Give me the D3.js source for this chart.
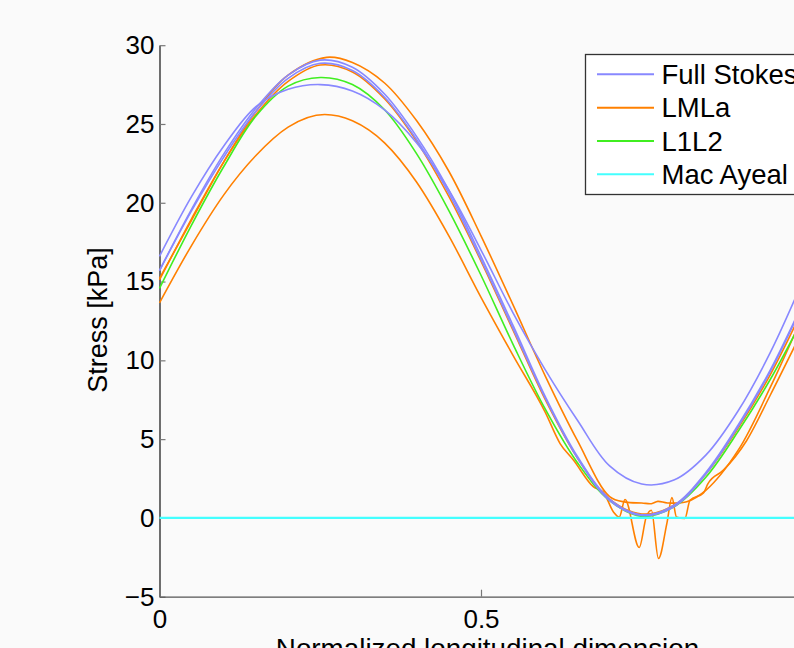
<!DOCTYPE html>
<html lang="en">

<head>
  <meta charset="UTF-8" />
  <title>Stress</title>
  <script src="https://cdn.jsdelivr.net/npm/d3@7"></script>
  <style>
    body {
      margin: 0;
      background: #fafafa;
    }

    text {
      font-family: "Liberation Sans", Arial, sans-serif;
      fill: #000;
    }
  </style>
</head>

<body>
  <svg id="chart" width="794" height="648"></svg>

  <script>
    // x positions shared by the smooth curves
    let xGrid = [0, 0.05, 0.1, 0.15, 0.2, 0.25, 0.3, 0.35, 0.4, 0.45, 0.5,
      0.55, 0.6, 0.65, 0.7, 0.75, 0.8, 0.85, 0.9, 0.95, 1];

    // Full Stokes runs
    let fsFlat = [16.6, 20.4, 23.6, 26.1, 27.2, 27.5, 27.1, 25.9, 23.8, 20.8, 17.0,
      13.0, 9.4, 6.2, 3.3, 2.15, 2.4, 4.0, 6.8, 10.5, 15.0];
    let fsHigh = [15.7, 19.6, 23.1, 26.0, 28.1, 29.05, 28.6, 26.9, 24.2, 20.8, 16.6,
      12.2, 7.7, 3.9, 1.2, 0.2, 0.8, 2.9, 5.9, 9.4, 13.6];
    let fsMid = [15.7, 19.5, 22.9, 25.8, 27.9, 28.85, 28.4, 26.7, 24.0, 20.6, 16.4,
      12.0, 7.6, 3.8, 1.1, 0.15, 0.7, 2.8, 5.8, 9.3, 13.5];

    // L1L2
    let l1l2 = [14.57, 18.6, 22.3, 25.5, 27.4, 27.95, 27.5, 25.9, 23.1, 19.5, 15.4,
      11.0, 6.9, 3.5, 1.1, 0.1, 0.7, 2.6, 5.5, 8.8, 12.6];

    // LMLa runs
    let lmlaMid = [15.1, 19.0, 22.6, 25.6, 27.7, 28.74, 28.3, 26.6, 23.9, 20.4, 16.3,
      11.9, 7.5, 3.8, 1.2, 0.25, 0.8, 2.8, 5.7, 9.1, 13.2];
    let lmlaTopX = [0, 0.05, 0.1, 0.15, 0.2, 0.26, 0.3, 0.35, 0.4, 0.45, 0.5, 0.55, 0.6,
      0.65, 0.7, 0.725, 0.75, 0.765, 0.775, 0.79, 0.82, 0.85, 0.9, 0.95, 1];
    let lmlaTop = [15.2, 18.9, 22.6, 25.8, 28.1, 29.23, 28.9, 27.6, 25.2, 22.0, 17.9, 13.5, 9.0,
      4.9, 1.35, 1.0, 0.95, 0.9, 1.05, 0.95, 1.02, 1.76, 4.3, 8.3, 12.8];
    let lmlaLowX = [0, 0.05, 0.1, 0.15, 0.2, 0.257, 0.3, 0.35, 0.4, 0.45, 0.5, 0.55, 0.6,
      0.623, 0.644, 0.675, 0.69, 0.706, 0.715, 0.724, 0.746, 0.757, 0.765, 0.776, 0.789,
      0.797, 0.804, 0.817, 0.825, 0.846, 0.853, 0.877, 0.913, 0.95, 1];
    let lmlaLow = [13.65, 17.3, 20.5, 23.0, 24.8, 25.6, 25.2, 23.8, 21.3, 17.9, 14.0, 10.3, 6.7,
      4.72, 3.66, 1.97, 1.65, 0.38, 0.06, 1.17, -1.88, 0.06, 0.49, -2.58, -0.36,
      1.29, 0.06, -0.04, 1.12, 1.59, 2.18, 3.03, 4.9, 7.8, 11.9];

    // Mac Ayeal
    let macAyeal = [0, 0, 0, 0, 0, 0, 0, 0, 0, 0, 0, 0, 0, 0, 0, 0, 0, 0, 0, 0, 0];

    let legendNames = ["Full Stokes", "LMLa", "L1L2", "Mac Ayeal"];
    let legendColors = ["#8888ff", "#ff8000", "#40ee20", "#44ffff"];
    let yTicks = [-5, 0, 5, 10, 15, 20, 25, 30];
    let xTicks = [0, 0.5];

    let svg = d3.select("#chart");

    let x = d3.scaleLinear().domain([0, 1]).range([159.5, 802.5]);
    let y = d3.scaleLinear().domain([-5, 30]).range([596.7, 45.2]);

    // axes
    let yAxis = svg.append("g")
      .attr("transform", "translate(159.5,0)")
      .call(d3.axisLeft(y).tickValues(yTicks).tickSize(-6).tickSizeOuter(0).tickPadding(5));
    let xAxis = svg.append("g")
      .attr("transform", "translate(0,596.7)")
      .call(d3.axisBottom(x).tickValues(xTicks).tickSize(-7).tickSizeOuter(0).tickPadding(13)
        .tickFormat(d3.format("")));

    [xAxis, yAxis].forEach(function (a) {
      a.select(".domain").attr("stroke", "#222").attr("stroke-width", 1.3);
      a.selectAll(".tick line").attr("stroke", "#777").attr("stroke-width", 1.2);
      a.selectAll(".tick text").style("font-size", "26px");
    });
    xAxis.select(".domain").attr("stroke", "#555");

    // curves
    let smooth = d3.line()
      .x(function (d) { return x(d[0]); })
      .y(function (d) { return y(d[1]); })
      .curve(d3.curveCatmullRom.alpha(0.5));
    let jagged = d3.line()
      .x(function (d) { return x(d[0]); })
      .y(function (d) { return y(d[1]); })
      .curve(d3.curveMonotoneX);

    function pairs(xs, ys) {
      return ys.map(function (v, i) { return [xs[i], v]; });
    }

    let series = [
      { pts: pairs(lmlaLowX, lmlaLow), color: legendColors[1], gen: jagged },
      { pts: pairs(lmlaTopX, lmlaTop), color: legendColors[1], gen: smooth },
      { pts: pairs(xGrid, lmlaMid), color: legendColors[1], gen: smooth },
      { pts: pairs(xGrid, l1l2), color: legendColors[2], gen: smooth },
      { pts: pairs(xGrid, fsFlat), color: legendColors[0], gen: smooth },
      { pts: pairs(xGrid, fsMid), color: legendColors[0], gen: smooth },
      { pts: pairs(xGrid, fsHigh), color: legendColors[0], gen: smooth },
      { pts: pairs(xGrid, macAyeal), color: legendColors[3], gen: smooth }
    ];

    svg.append("g")
      .selectAll("path")
      .data(series)
      .join("path")
      .attr("d", function (d) { return d.gen(d.pts); })
      .attr("fill", "none")
      .attr("stroke", function (d) { return d.color; })
      .attr("stroke-width", function (d) { return d.color == legendColors[3] ? 2.2 : 1.6; });

    // axis labels
    svg.append("text")
      .attr("x", 487.5)
      .attr("y", 658)
      .attr("text-anchor", "middle")
      .style("font-size", "27.8px")
      .text("Normalized longitudinal dimension");
    svg.append("text")
      .attr("transform", "translate(107,320) rotate(-90)")
      .attr("text-anchor", "middle")
      .style("font-size", "27px")
      .text("Stress [kPa]");

    // legend
    let legend = svg.append("g");
    legend.append("rect")
      .attr("x", 585.5)
      .attr("y", 54.5)
      .attr("width", 300)
      .attr("height", 140)
      .attr("fill", "#fff")
      .attr("stroke", "#333")
      .attr("stroke-width", 1.3);
    let rowY = d3.scalePoint().domain(legendNames).range([74.3, 174.3]);
    legendNames.forEach(function (name, i) {
      legend.append("line")
        .attr("x1", 597).attr("x2", 654)
        .attr("y1", rowY(name)).attr("y2", rowY(name))
        .attr("stroke", legendColors[i])
        .attr("stroke-width", 2);
      legend.append("text")
        .attr("x", 661.5)
        .attr("y", rowY(name) + 9.8)
        .style("font-size", "27.5px")
        .text(name);
    });
  </script>
</body>

</html>
